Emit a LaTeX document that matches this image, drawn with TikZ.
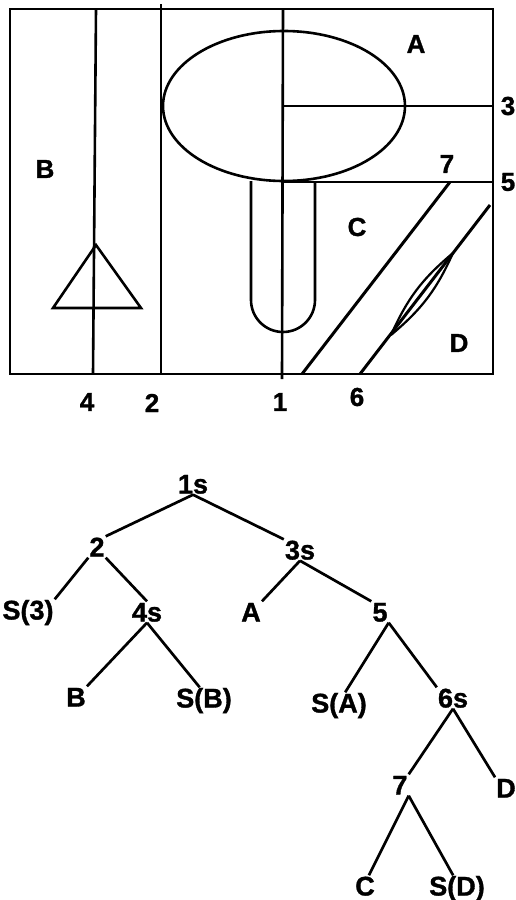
\documentclass[tikz,border=0pt]{standalone}
\usepackage{fontspec}
\setmainfont{Liberation Sans}[BoldFeatures={FakeBold=1.2}]
\begin{document}
\begin{tikzpicture}[x=1pt,y=-1pt,
  lbl/.style={font=\fontsize{26}{28}\selectfont\bfseries, inner sep=1pt},
  tl/.style={font=\fontsize{27}{29}\selectfont\bfseries, inner sep=1pt, text height=19pt, text depth=0pt},
  ln/.style={line width=2.6pt},
  edge/.style={line width=2.7pt}]
\useasboundingbox (0,0) rectangle (516,900);
% ---------- top plan ----------
\draw[ln] (10,9) rectangle (493,374);
\draw[ln] (96,9) -- (93,374);          % line 4
\draw[ln] (161,4) -- (161,374);        % line 2
\draw[ln] (283,9) -- (282,379);        % line 1
\draw[ln] (284,106) ellipse [x radius=121pt, y radius=75pt];
\draw[ln] (282,106) -- (493,106);      % line 3
\draw[ln] (282,182) -- (493,182);      % line 5
\draw[ln, rounded corners=32pt] (251,181) -- (251,332) -- (315,332) -- (315,181);
\draw[line width=3pt] (450,182) -- (302,374);   % line 7
\draw[line width=3pt] (490,205) -- (360,374);   % line 6
\draw[line width=2.2pt] (391,335) to[bend left=13] (453,253);
\draw[line width=2.2pt] (391,335) to[bend right=13] (453,253);
\draw[ln, line join=miter] (96,245) -- (53,308) -- (141,308) -- cycle;
\node[lbl] (lA) at (416,44) {A};
\node[lbl] (lB) at (45,169) {B};
\node[lbl] (lC) at (357,227) {C};
\node[lbl] (lD) at (459,343) {D};
\node[lbl] (l3) at (508,106) {3};
\node[lbl] (l5) at (508,182) {5};
\node[lbl] (l7) at (447,164) {7};
\node[lbl] (l4) at (87,402) {4};
\node[lbl] (l2) at (152,403) {2};
\node[lbl] (l1) at (280,402) {1};
\node[lbl] (l6) at (357,397) {6};
% ---------- tree ----------
\node[tl] (t1s) at (193,484) {1s};
\node[tl] (t2) at (97,547) {2};
\node[tl] (t3s) at (300,550) {3s};
\node[tl] (tS3) at (28,610) {S(3)};
\node[tl] (t4s) at (147,612) {4s};
\node[tl] (tA) at (251,612) {A};
\node[tl] (t5) at (380,612) {5};
\node[tl] (tB) at (76,697) {B};
\node[tl] (tSB) at (204,698) {S(B)};
\node[tl] (tSA) at (339,703) {S(A)};
\node[tl] (t6s) at (453,698) {6s};
\node[tl] (t7) at (400,785) {7};
\node[tl] (tD) at (506,788) {D};
\node[tl] (tC) at (365,886) {C};
\node[tl] (tSD) at (457,886) {S(D)};
\draw[edge] (t1s.south) -- (t2.north east);
\draw[edge] (t1s.south) -- (t3s.north west);
\draw[edge] (t2.south west) -- (tS3.north east);
\draw[edge] (t2.south east) -- (t4s.north);
\draw[edge] (t3s.south) -- (tA.north east);
\draw[edge] (t3s.south) -- (t5.north west);
\draw[edge] (t4s.south) -- (tB.north east);
\draw[edge] (t4s.south) -- (tSB.112);
\draw[edge] (t5.south east) -- (tSA.60);
\draw[edge] (t5.south east) -- (t6s.north west);
\draw[edge] (t6s.south) -- (t7.north east);
\draw[edge] (t6s.south) -- (tD.north west);
\draw[edge] (t7.south east) -- (tC.70);
\draw[edge] (t7.south east) -- (tSD.110);
\end{tikzpicture}
\end{document}
